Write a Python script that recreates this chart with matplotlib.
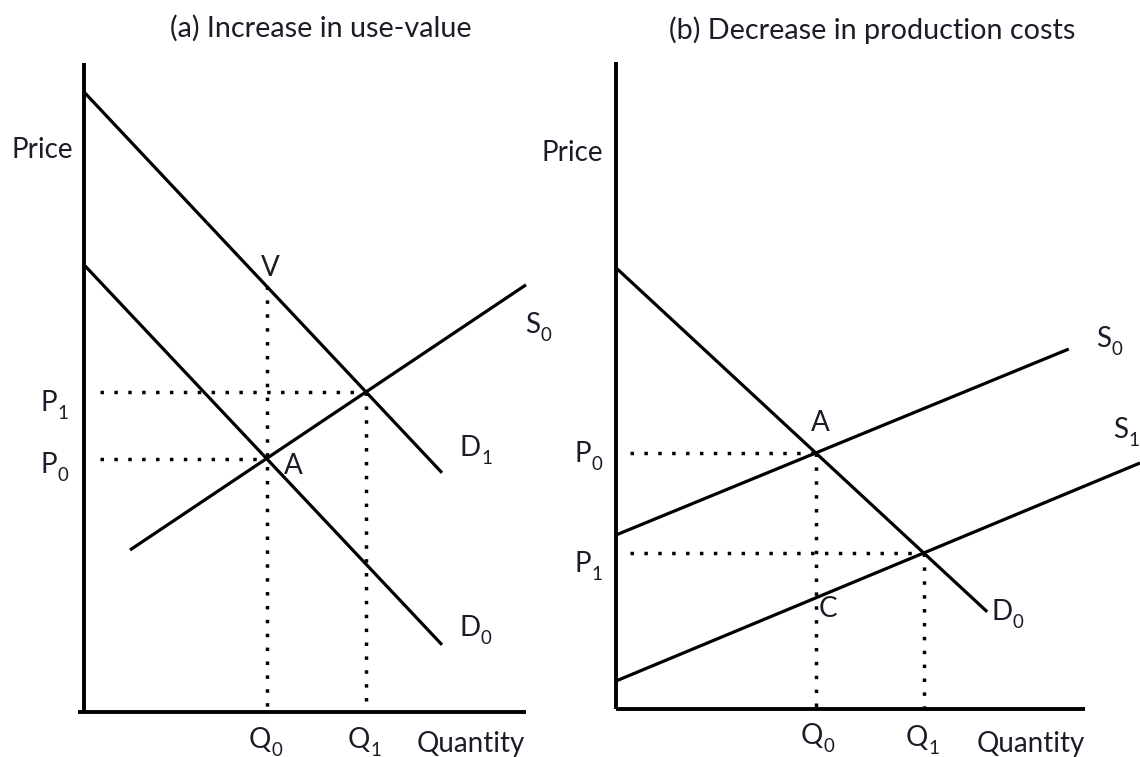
import numpy as np
import matplotlib
matplotlib.use("Agg")
import matplotlib.pyplot as plt

plt.rcParams['font.family'] = ['Lato', 'DejaVu Sans']

# ---------------- data (diagram units, origin at each panel's axis corner) ----
titles = ["(a) Increase in use-value", "(b) Decrease in production costs"]

# panel (a): curves as ([x0, x1], [y0, y1])
a_D1 = ([0.0, 8.95], [15.5, 5.98])
a_D0 = ([0.0, 8.95], [11.18, 1.68])
a_S0 = ([1.15, 11.05], [4.05, 10.68])
a_axis_top = 16.22
a_axis_right = 11.05
a_axis_left = -0.15

# panel (b)
b_D0 = ([0.0, 9.28], [11.03, 2.43])
b_S0 = ([0.0, 11.32], [4.35, 9.0])
b_S1 = ([0.0, 13.1], [0.7, 6.15])
b_axis_top = 16.18
b_axis_right = 11.72

dot_start_a = 0.4
dot_start_b = 0.35

UNIT = 40.0           # pixels per diagram unit
W, H = 1140, 757
origin_a = (84, 712)  # pixel position of panel origins
origin_b = (616, 709)

INK = '#1c1c28'
LW = 2.3
AXLW = 2.8
DOT = (0, (1, 3))
DOTLW = 2.5
FS = 20
TFS = 20.7
SUBFS = 13.5


def line_eq(seg):
    (x0, x1), (y0, y1) = seg
    m = (y1 - y0) / (x1 - x0)
    return m, y0 - m * x0


def intersect(s1, s2):
    m1, c1 = line_eq(s1)
    m2, c2 = line_eq(s2)
    x = (c2 - c1) / (m1 - m2)
    return x, m1 * x + c1


def y_at(seg, x):
    m, c = line_eq(seg)
    return m * x + c


fig = plt.figure(figsize=(W / 100, H / 100), dpi=100)
renderer = fig.canvas.get_renderer()


def make_axes(origin):
    ox, oy = origin
    ax = fig.add_axes([0, 0, 1, 1])
    ax.set_xlim(-ox / UNIT, (W - ox) / UNIT)
    ax.set_ylim(-(H - oy) / UNIT, oy / UNIT)
    ax.axis('off')
    ax.patch.set_alpha(0)
    ax.origin_px = origin
    return ax


def px(ax, x, y):
    ox, oy = ax.origin_px
    return (x - ox) / UNIT, (oy - y) / UNIT


def label(ax, x, y, s, sub=None, **kw):
    """(x, y) pixel position of the main text centre (or left edge if ha='left')."""
    kw.setdefault('fontsize', FS)
    kw.setdefault('ha', 'center')
    kw.setdefault('va', 'center')
    dx, dy = px(ax, x, y)
    t = ax.text(dx, dy, s, color=INK, **kw)
    if sub is not None:
        bb = t.get_window_extent(renderer)
        wpt = bb.width * 72 / 100
        off = wpt / 2 if kw['ha'] == 'center' else wpt
        ax.annotate(sub, xy=(dx, dy), xytext=(off + 0.3, -7.5),
                    textcoords='offset points', fontsize=SUBFS, color=INK,
                    ha='left', va='center')


# ---------------- panel (a) ----------------
ax = make_axes(origin_a)
ax.plot([0, 0], [0, a_axis_top], color='black', lw=AXLW, solid_capstyle='butt')
ax.plot([a_axis_left, a_axis_right], [0, 0], color='black', lw=AXLW, solid_capstyle='butt')
for seg in (a_D1, a_D0, a_S0):
    ax.plot(*seg, color='black', lw=LW, solid_capstyle='butt')

qa0, pa0 = intersect(a_D0, a_S0)
qa1, pa1 = intersect(a_D1, a_S0)
va = y_at(a_D1, qa0)
ax.plot([dot_start_a, qa1], [pa1, pa1], color='black', lw=DOTLW, ls=DOT)
ax.plot([dot_start_a, qa0], [pa0, pa0], color='black', lw=DOTLW, ls=DOT)
ax.plot([qa0, qa0], [va, 0], color='black', lw=DOTLW, ls=DOT)
ax.plot([qa1, qa1], [pa1, 0], color='black', lw=DOTLW, ls=DOT)

label(ax, 321, 28, titles[0], fontsize=TFS)
label(ax, 12, 150, "Price", ha='left')
label(ax, 49, 403, "P", "1")
label(ax, 49, 465, "P", "0")
label(ax, 270, 268, "V")
label(ax, 293, 466, "A")
label(ax, 470, 448, "D", "1")
label(ax, 470, 628, "D", "0")
label(ax, 533, 325, "S", "0")
label(ax, 260, 740, "Q", "0")
label(ax, 359, 740, "Q", "1")
label(ax, 417, 744, "Quantity", ha='left')

# ---------------- panel (b) ----------------
bx = make_axes(origin_b)
bx.plot([0, 0], [0, b_axis_top], color='black', lw=AXLW, solid_capstyle='butt')
bx.plot([0, b_axis_right], [0, 0], color='black', lw=AXLW, solid_capstyle='butt')
for seg in (b_D0, b_S0, b_S1):
    bx.plot(*seg, color='black', lw=LW, solid_capstyle='butt')

qb0, pb0 = intersect(b_D0, b_S0)
qb1, pb1 = intersect(b_D0, b_S1)
bx.plot([dot_start_b, qb0], [pb0, pb0], color='black', lw=DOTLW, ls=DOT)
bx.plot([dot_start_b, qb1], [pb1, pb1], color='black', lw=DOTLW, ls=DOT)
bx.plot([qb0, qb0], [pb0, 0], color='black', lw=DOTLW, ls=DOT)
bx.plot([qb1, qb1], [pb1, 0], color='black', lw=DOTLW, ls=DOT)

label(bx, 872, 30, titles[1], fontsize=TFS)
label(bx, 542, 153, "Price", ha='left')
label(bx, 583, 454, "P", "0")
label(bx, 583, 564, "P", "1")
label(bx, 820, 423, "A")
label(bx, 828, 609, "C")
label(bx, 1002, 612, "D", "0")
label(bx, 1104, 339, "S", "0")
label(bx, 1121, 430, "S", "1")
label(bx, 812, 736, "Q", "0")
label(bx, 917, 738, "Q", "1")
label(bx, 977, 744, "Quantity", ha='left')

fig.savefig("out.png", dpi=100)
